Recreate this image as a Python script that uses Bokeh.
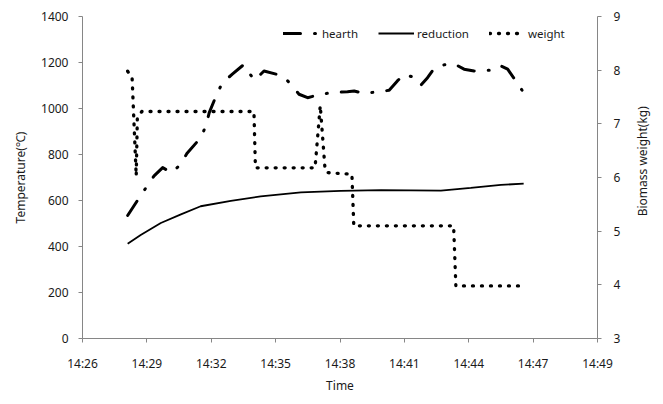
import math
from bokeh.plotting import figure
from bokeh.layouts import row
from bokeh.models import (Range1d, LinearAxis, FixedTicker, CustomJSTickFormatter, Legend,
                          LegendItem)
from bokeh.core.properties import value
from bokeh.embed import file_html
from bokeh.resources import INLINE

# ---- data (times as clock strings) ----
hearth_time = ["14:28:54", "14:29:25", "14:29:45", "14:30:05", "14:30:28", "14:30:52", "14:31:15",
               "14:31:33", "14:32:10", "14:32:24", "14:32:33", "14:32:55", "14:33:09", "14:33:35",
               "14:34:05", "14:34:16", "14:34:35", "14:35:00", "14:35:50", "14:36:12", "14:36:34",
               "14:36:57", "14:37:33", "14:38:04", "14:38:44", "14:39:02", "14:39:29", "14:40:05",
               "14:40:36", "14:40:58", "14:41:16", "14:41:39", "14:42:01", "14:42:19", "14:42:37",
               "14:43:04", "14:43:30", "14:43:57", "14:44:24", "14:44:53", "14:45:18", "14:45:36",
               "14:45:54", "14:46:16", "14:46:37"]
hearth_temp = [535, 612, 660, 707, 743, 721, 755,
               804, 873, 924, 982, 1069, 1113, 1149,
               1190, 1163, 1123, 1163, 1142, 1106, 1062,
               1047, 1062, 1069, 1073, 1076, 1065, 1073,
               1079, 1120, 1149, 1137, 1101, 1134, 1175,
               1190, 1195, 1171, 1163, 1166, 1166, 1185,
               1171, 1120, 1069]

reduction_time = ["14:28:54", "14:29:29", "14:30:23", "14:31:17", "14:32:10", "14:33:31", "14:34:51",
                  "14:36:39", "14:38:26", "14:40:14", "14:42:55", "14:44:15", "14:45:36", "14:46:37"]
reduction_temp = [412, 450, 502, 540, 575, 598, 618,
                  635, 642, 645, 643, 655, 668, 673]

weight_time = ["14:28:54", "14:29:06", "14:29:17", "14:29:20", "14:29:32", "14:34:33", "14:34:37",
               "14:37:17", "14:37:31", "14:37:44", "14:37:52", "14:38:56", "14:39:01", "14:43:29",
               "14:43:35", "14:46:37"]
weight_kg = [7.98, 7.85, 6.03, 7.10, 7.23, 7.23, 6.18,
             6.18, 7.34, 6.14, 6.09, 6.06, 5.10, 5.10,
             3.98, 3.98]

x_tick_days = [0.602, 0.604, 0.606, 0.608, 0.610, 0.612, 0.614, 0.616, 0.618]
temp_ticks = [0, 200, 400, 600, 800, 1000, 1200, 1400]
weight_ticks = [3, 4, 5, 6, 7, 8, 9]
right_title = "Biomass weight(kg)"


def to_min(s):
    h, m, sec = (int(v) for v in s.split(":"))
    return h * 60 + m + sec / 60.0


x_ticks = [d * 1440 for d in x_tick_days]

FONT = "Noto Sans"
AXIS_COLOR = "#868686"
TEXT_COLOR = "#1a1a1a"
TOTAL_W, TOTAL_H = 655, 396
SIDE_W = 30

p = figure(width=TOTAL_W - SIDE_W, height=TOTAL_H, output_backend="svg", toolbar_location=None,
           x_range=Range1d(x_ticks[0], x_ticks[-1]), y_range=Range1d(0, 1400),
           min_border_left=82, min_border_right=28, min_border_top=16, min_border_bottom=58)
p.outline_line_color = None
p.xgrid.visible = False
p.ygrid.visible = False
p.background_fill_color = "white"
p.border_fill_color = "white"

p.extra_y_ranges = {"w": Range1d(3, 9)}

r_h = p.line([to_min(t) for t in hearth_time], hearth_temp, line_color="black", line_width=3,
             line_dash="17 14 1 14", line_cap="round", line_join="round")
r_r = p.line([to_min(t) for t in reduction_time], reduction_temp, line_color="black", line_width=1.8)
r_w = p.line([to_min(t) for t in weight_time], weight_kg, y_range_name="w", line_color="black",
             line_width=3.3, line_dash="1 8", line_cap="round", line_join="round")


def style_axis(ax):
    ax.axis_line_color = AXIS_COLOR
    ax.major_tick_line_color = AXIS_COLOR
    ax.minor_tick_line_color = None
    ax.major_tick_in = 0
    ax.major_tick_out = 4
    ax.major_label_text_font = FONT
    ax.major_label_text_font_size = "12px"
    ax.major_label_text_color = TEXT_COLOR
    ax.axis_label_text_font = FONT
    ax.axis_label_text_font_size = "12px"
    ax.axis_label_text_font_style = "normal"
    ax.axis_label_text_color = TEXT_COLOR


xa = p.xaxis[0]
style_axis(xa)
xa.ticker = FixedTicker(ticks=x_ticks)
xa.formatter = CustomJSTickFormatter(code="""
const t = tick + 1e-6;
const h = Math.floor(t / 60);
const m = Math.floor(t - h * 60);
return h + ":" + String(m).padStart(2, "0");
""")
xa.axis_label = "Time"
xa.major_label_standoff = 12
xa.axis_label_standoff = 2

ya = p.yaxis[0]
style_axis(ya)
ya.ticker = FixedTicker(ticks=temp_ticks)
ya.axis_label = "Temperature(℃)"
ya.major_label_standoff = 10
ya.axis_label_standoff = 9

ra = LinearAxis(y_range_name="w")
style_axis(ra)
ra.ticker = FixedTicker(ticks=weight_ticks)
ra.major_label_standoff = 12
p.add_layout(ra, "right")

legend = Legend(items=[LegendItem(label="hearth", renderers=[r_h]),
                       LegendItem(label="reduction", renderers=[r_r]),
                       LegendItem(label="weight", renderers=[r_w])],
                orientation="horizontal", location=(201, 295))
legend.border_line_color = None
legend.background_fill_alpha = 0
legend.padding = 0
legend.margin = 0
legend.spacing = 20
legend.glyph_width = 36
legend.label_standoff = 3
legend.label_text_font = FONT
legend.label_text_font_size = "11.5px"
legend.label_text_color = TEXT_COLOR
p.add_layout(legend, "center")

# narrow side strip holding the right axis title, reading bottom-to-top
side = figure(width=SIDE_W, height=TOTAL_H, output_backend="svg", toolbar_location=None,
              x_range=Range1d(0, SIDE_W), y_range=Range1d(0, TOTAL_H),
              x_axis_location=None, y_axis_location=None,
              min_border_left=0, min_border_right=0, min_border_top=0, min_border_bottom=0)
side.outline_line_color = None
side.xgrid.visible = False
side.ygrid.visible = False
side.background_fill_color = "white"
side.border_fill_color = "white"
side.text(x=[17], y=[TOTAL_H - 178], text=[right_title], angle=math.pi / 2,
          text_align="center", text_baseline="middle", text_font=value(FONT),
          text_font_size=value("12px"), text_color=TEXT_COLOR)

layout = row(p, side, spacing=0)
open("out.html", "w").write(file_html(layout, INLINE))
